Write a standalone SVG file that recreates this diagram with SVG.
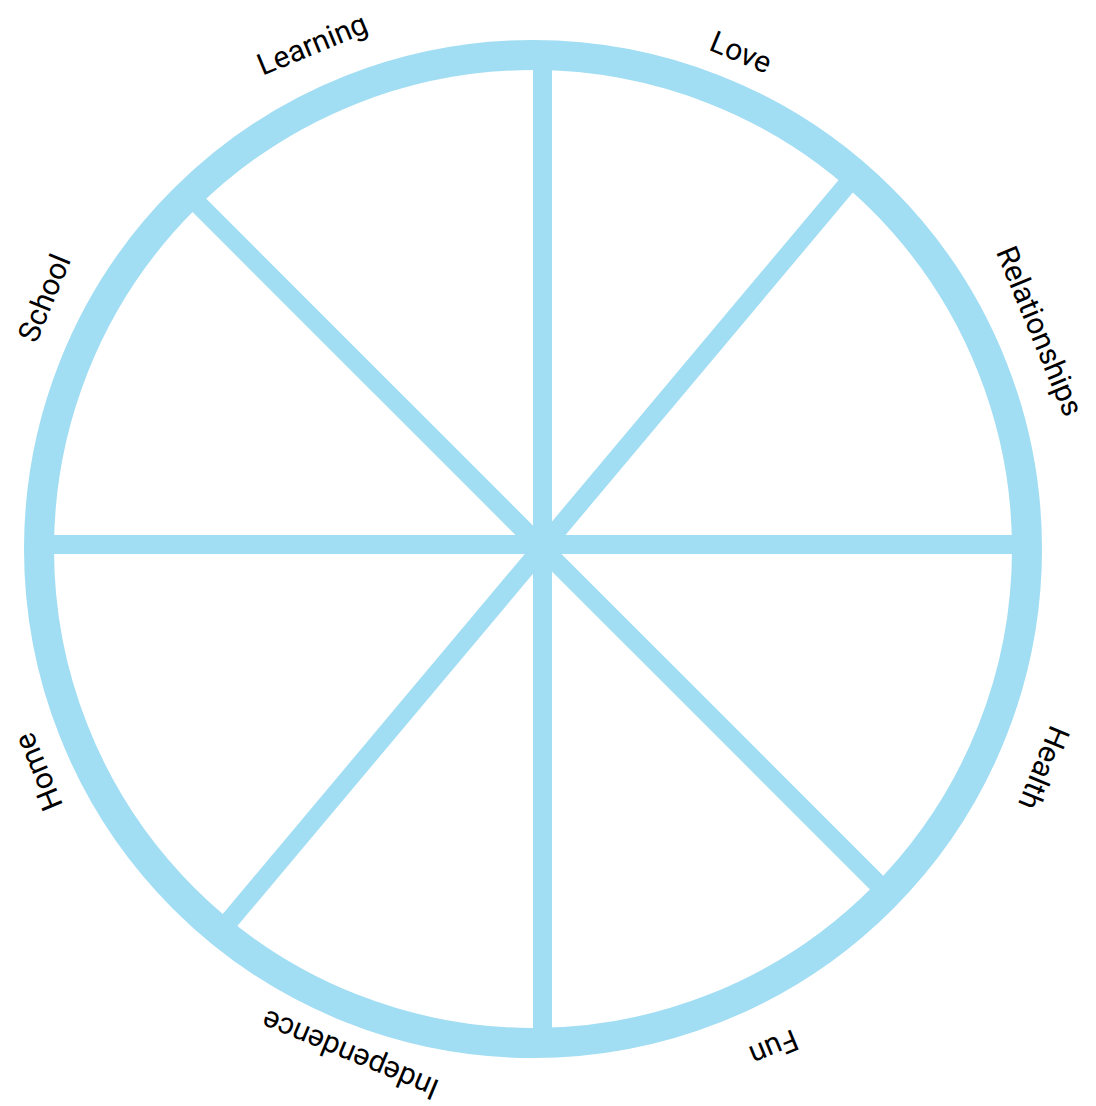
<svg xmlns="http://www.w3.org/2000/svg" width="1096" height="1106" viewBox="0 0 1096 1106">
  <style>
    .spoke { stroke: #A1DDF3; stroke-width: 19; fill: none; stroke-linecap: butt; }
    .ring { stroke: #A1DDF3; stroke-width: 30; fill: none; }
    .label { font-family: Roboto, "Liberation Sans", sans-serif; font-size: 30px; fill: #000; text-anchor: middle; dominant-baseline: central; }
  </style>
  <rect width="1096" height="1106" fill="#ffffff"/>
  <g id="connectors">
    <line class="spoke" x1="542.5" y1="60" x2="542.5" y2="1040"/>
    <line class="spoke" x1="40" y1="544.5" x2="1025" y2="544.5"/>
    <line class="spoke" x1="185" y1="191" x2="885" y2="891"/>
    <line class="spoke" x1="856" y1="174" x2="220" y2="932"/>
  </g>
  <g id="wheel">
    <circle class="ring" cx="533" cy="549" r="494"/>
  </g>
  <g id="label-learning"><text class="label" transform="translate(312,44) rotate(-22.5)">Learning</text></g>
  <g id="label-love"><text class="label" transform="translate(741,52) rotate(22.5)">Love</text></g>
  <g id="label-relationships"><text class="label" transform="translate(1040,331) rotate(67.5)">Relationships</text></g>
  <g id="label-health"><text class="label" transform="translate(1044,768) rotate(112.5)">Health</text></g>
  <g id="label-fun"><text class="label" transform="translate(774,1048) rotate(157.5)">Fun</text></g>
  <g id="label-independence"><text class="label" transform="translate(350,1055) rotate(202.5)">Independence</text></g>
  <g id="label-home"><text class="label" transform="translate(38,772) rotate(247.5)">Home</text></g>
  <g id="label-school"><text class="label" transform="translate(44,298) rotate(-67.5)">School</text></g>
</svg>
